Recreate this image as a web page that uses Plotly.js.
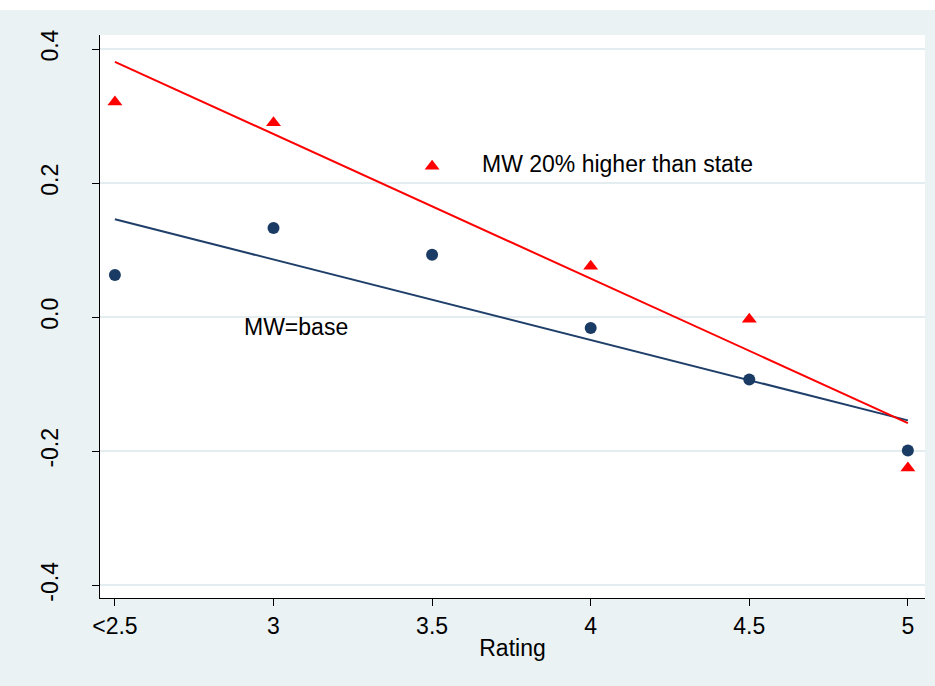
<!DOCTYPE html>
<html>
<head>
<script src="https://cdn.plot.ly/plotly-3.0.1.min.js"></script>
<style>
  body { margin: 0; background: #fff; }
  #chart { width: 935px; height: 676px; margin-top: 10px; }
</style>
</head>
<body>
<div id="chart"></div>
<script>
// ratings and estimated effects
const ratings = [2.5, 3, 3.5, 4, 4.5, 5];
const tickLabels = ["<2.5", "3", "3.5", "4", "4.5", "5"];
const baseVals = [0.063, 0.133, 0.093, -0.016, -0.093, -0.199];
const highVals = [0.321, 0.290, 0.225, 0.076, -0.003, -0.225];

// fitted line endpoints
const fitX = [2.5, 5];
const baseFit = [0.146, -0.154];
const highFit = [0.381, -0.158];

const traces = [
  { x: fitX, y: baseFit, mode: "lines", line: { color: "#1f3f6a", width: 2 } },
  { x: fitX, y: highFit, mode: "lines", line: { color: "#ff0000", width: 2 } },
  { x: ratings, y: baseVals, mode: "markers",
    marker: { color: "#1a3b63", size: 12, symbol: "circle" } },
  { x: ratings, y: highVals, mode: "markers",
    marker: { color: "#ff0000", size: 13, symbol: "triangle-up" } },
];

const layout = {
  width: 935, height: 676,
  showlegend: false,
  paper_bgcolor: "#eaf2f3",
  plot_bgcolor: "#ffffff",
  margin: { l: 100, r: 10, t: 25, b: 88 },
  font: { family: "Liberation Sans, Arial, sans-serif", size: 23, color: "#000" },
  xaxis: {
    range: [2.453, 5.054],
    tickvals: ratings, ticktext: tickLabels,
    ticks: "outside", ticklen: 7, tickcolor: "#000",
    showgrid: false, zeroline: false,
    showline: true, linecolor: "#000", linewidth: 1,
    title: { text: "Rating", font: { size: 23 }, standoff: 2 },
  },
  yaxis: {
    range: [-0.419, 0.421],
    tickvals: [-0.4, -0.2, 0, 0.2, 0.4],
    ticktext: ["-0.4", "-0.2", "0.0", "0.2", "0.4"],
    tickangle: -90,
    ticks: "outside", ticklen: 7, tickcolor: "#000",
    ticklabelstandoff: 25,
    showgrid: true, gridcolor: "#e3ecee", gridwidth: 2,
    zeroline: false,
    showline: true, linecolor: "#000", linewidth: 1,
  },
  annotations: [
    { x: 3.65, y: 0.228, text: "MW 20% higher than state", showarrow: false,
      xanchor: "left", font: { size: 23 } },
    { x: 2.9, y: -0.015, text: "MW=base", showarrow: false,
      xanchor: "left", font: { size: 23 } },
  ],
};

Plotly.newPlot("chart", traces, layout, { displayModeBar: false });
</script>
</body>
</html>
